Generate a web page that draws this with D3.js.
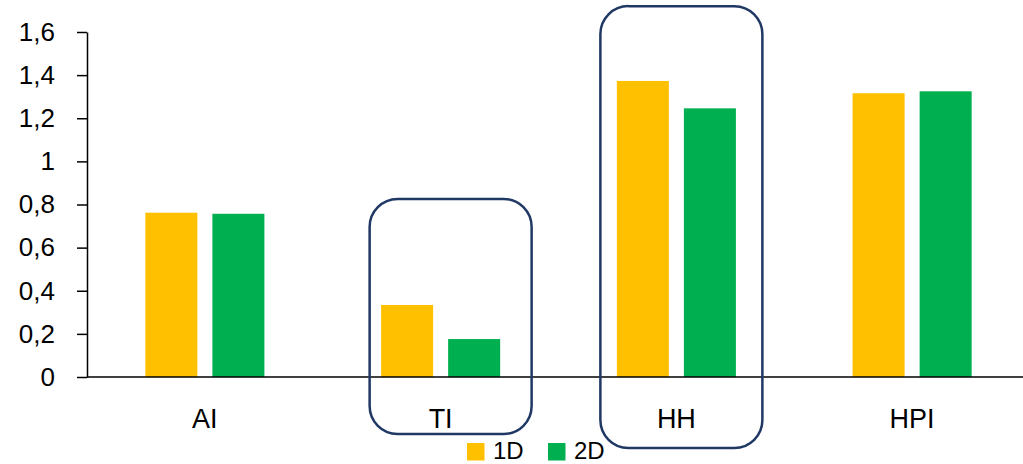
<!DOCTYPE html>
<html>
<head>
<meta charset="utf-8">
<script src="https://cdn.jsdelivr.net/npm/d3@7"></script>
<style>
  html, body { margin: 0; padding: 0; background: #fff; }
  svg { display: block; font-family: "Liberation Sans", Arial, sans-serif; }
</style>
</head>
<body>
<svg id="chart" width="1023" height="464"></svg>
<script>
const categories = ["AI", "TI", "HH", "HPI"];
const seriesNames = ["1D", "2D"];
const values1D = [0.762, 0.334, 1.373, 1.316];
const values2D = [0.757, 0.176, 1.246, 1.325];
const yTicks = [0, 0.2, 0.4, 0.6, 0.8, 1, 1.2, 1.4, 1.6];
const colors = ["#FFC000", "#00B050"];
const highlighted = ["TI", "HH"];

(function () {
const svg = d3.select("#chart");
const mLeft = 87, mRight = 1030, mTop = 32, mBottom = 377;

const x0 = d3.scaleBand().domain(categories).range([mLeft, mRight])
  .paddingInner(0.495).paddingOuter(0.2475);
const x1 = d3.scaleBand().domain(seriesNames).range([0, x0.bandwidth()])
  .paddingInner(0.224);
const y = d3.scaleLinear().domain([0, 1.6]).range([mBottom, mTop]);

const data = categories.map((c, i) => ({cat: c, vals: [values1D[i], values2D[i]]}));

// bars
const g = svg.append("g");
data.forEach(d => {
  d.vals.forEach((v, j) => {
    g.append("rect")
      .attr("x", x0(d.cat) + x1(seriesNames[j]))
      .attr("y", y(v))
      .attr("width", x1.bandwidth())
      .attr("height", y(0) - y(v))
      .attr("fill", colors[j]);
  });
});

// y axis
const fmt = v => String(+v.toFixed(1)).replace(".", ",");
const yAxis = d3.axisLeft(y).tickValues(yTicks).tickFormat(fmt)
  .tickSize(10).tickPadding(22).tickSizeOuter(0);
const ya = svg.append("g").attr("transform", `translate(${mLeft},0)`).call(yAxis);
ya.select(".domain").attr("stroke", "#000").attr("stroke-width", 1.5);
ya.selectAll(".tick line").attr("stroke", "#000").attr("stroke-width", 1.5);
ya.selectAll(".tick text").attr("font-size", 26).attr("fill", "#000")
  .attr("font-family", "Liberation Sans, Arial, sans-serif");

// x axis line
svg.append("line").attr("x1", mLeft).attr("x2", 1023)
  .attr("y1", y(0)).attr("y2", y(0))
  .attr("stroke", "#000").attr("stroke-width", 1.5);

// category labels
svg.selectAll(".cat").data(categories).enter().append("text")
  .attr("x", d => x0(d) + x0.bandwidth() / 2)
  .attr("y", 428)
  .attr("text-anchor", "middle")
  .attr("font-size", 27)
  .attr("fill", "#000")
  .text(d => d);

// highlight boxes
const boxSpec = {TI: {dx: 10, top: 0.826, bot: 434}, HH: {dx: 5, top: 1.72, bot: 448}};
highlighted.forEach(c => {
  const s = boxSpec[c];
  const cx = x0(c) + x0.bandwidth() / 2 + s.dx;
  svg.append("rect")
    .attr("x", cx - 81).attr("y", y(s.top))
    .attr("width", 162).attr("height", s.bot - y(s.top))
    .attr("rx", 28).attr("ry", 28)
    .attr("fill", "none").attr("stroke", "#1F3864").attr("stroke-width", 2.5);
});

// legend
const legX = [467, 548];
seriesNames.forEach((n, j) => {
  svg.append("rect").attr("x", legX[j]).attr("y", 443)
    .attr("width", 17.5).attr("height", 17.5).attr("fill", colors[j]);
  svg.append("text").attr("x", legX[j] + 26).attr("y", 458.5)
    .attr("font-size", 24).attr("fill", "#000").text(n);
});
})();
</script>
</body>
</html>
